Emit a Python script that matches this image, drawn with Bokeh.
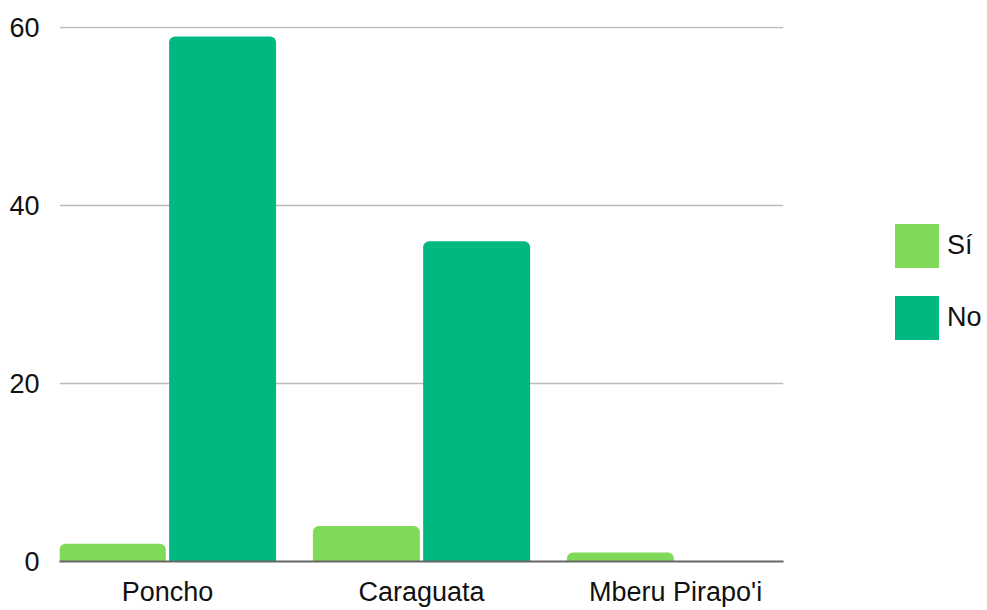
from bokeh.plotting import figure
from bokeh.models import Range1d, FixedTicker, Legend, LegendItem, ColumnDataSource
from bokeh.embed import file_html
from bokeh.resources import INLINE

categories = ["Poncho", "Caraguata", "Mberu Pirapo'i"]
series_names = ["Sí", "No"]
si_values = [2, 4, 1]
no_values = [59, 36, 0]
y_ticks = [0, 20, 40, 60]

colors = ["#80DA59", "#00B880"]
FONT = "Liberation Sans"

idx = list(range(len(categories)))
offset = 0.217
bar_w = 0.421

p = figure(frame_width=724, frame_height=535, output_backend="svg", toolbar_location=None,
           x_range=Range1d(-0.425, len(categories) - 1 + 0.425),
           y_range=Range1d(0, 60.12),
           min_border_left=59, min_border_top=26, min_border_right=195,
           min_border_bottom=0)
p.outline_line_color = None
p.background_fill_color = "white"
p.border_fill_color = "white"

src_si = ColumnDataSource(dict(x=[i - offset for i in idx], top=si_values))
src_no = ColumnDataSource(dict(x=[i + offset for i in idx], top=no_values))
r_si = p.vbar(x="x", top="top", bottom=0, width=bar_w, source=src_si,
              fill_color=colors[0], line_color=None, border_radius=(6, 6, 0, 0))
r_no = p.vbar(x="x", top="top", bottom=0, width=bar_w, source=src_no,
              fill_color=colors[1], line_color=None, border_radius=(6, 6, 0, 0))

# axes
p.xaxis.ticker = FixedTicker(ticks=idx)
p.xaxis.major_label_overrides = {i: c for i, c in zip(idx, categories)}
p.xaxis.axis_line_color = "#666666"
p.xaxis.axis_line_width = 2
p.xaxis.major_tick_line_color = None
p.xaxis.minor_tick_line_color = None
p.xaxis.major_label_standoff = 9
p.xaxis.major_label_text_font = FONT
p.xaxis.major_label_text_font_size = "27px"
p.xaxis.major_label_text_color = "#111111"

p.yaxis.ticker = FixedTicker(ticks=y_ticks)
p.yaxis.axis_line_color = None
p.yaxis.major_tick_line_color = None
p.yaxis.minor_tick_line_color = None
p.yaxis.major_label_standoff = 14
p.yaxis.major_label_text_font = FONT
p.yaxis.major_label_text_font_size = "27px"
p.yaxis.major_label_text_color = "#111111"

p.xgrid.grid_line_color = None
p.ygrid.grid_line_color = "#BBBBBB"
p.ygrid.grid_line_width = 1.3

legend = Legend(items=[LegendItem(label=series_names[0], renderers=[r_si]),
                       LegendItem(label=series_names[1], renderers=[r_no])],
                location=(106, 216), orientation="vertical",
                glyph_width=55, glyph_height=55, label_standoff=3, spacing=17,
                padding=0, margin=0, border_line_color=None,
                background_fill_alpha=0,
                label_text_font=FONT, label_text_font_size="27px",
                label_text_color="#111111")
p.add_layout(legend, "right")

open("out.html", "w").write(file_html(p, INLINE))
